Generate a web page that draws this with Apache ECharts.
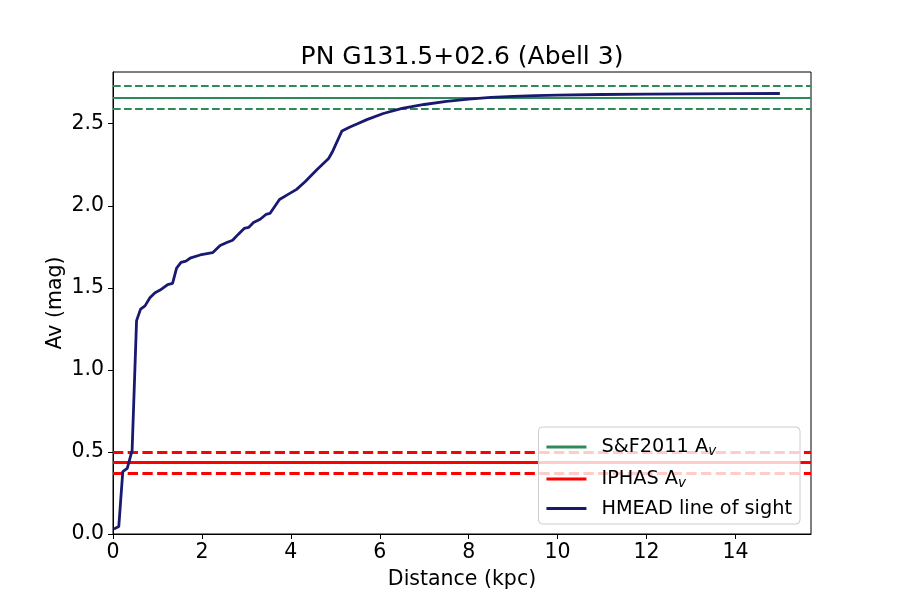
<!DOCTYPE html>
<html>
<head>
<meta charset="utf-8">
<script src="https://cdn.jsdelivr.net/npm/echarts@6/dist/echarts.min.js"></script>
<style>
html,body{margin:0;padding:0;background:#fff;}
#chart{width:900px;height:600px;}
</style>
</head>
<body>
<div id="chart"></div>
<script>
const titleText = 'PN G131.5+02.6 (Abell 3)';
const xTicks = [0, 2, 4, 6, 8, 10, 12, 14];
const yTicks = [0.0, 0.5, 1.0, 1.5, 2.0, 2.5];
const xRange = [0, 15.7];
const yRange = [0, 2.815];

// S&F2011 Av: value, lower, upper
const sfAv = [2.657, 2.590, 2.733];
// IPHAS Av: value, lower, upper
const iphasAv = [0.437, 0.371, 0.499];

// HMEAD line of sight
const distance = [0.02, 0.13, 0.22, 0.32, 0.43, 0.53, 0.62, 0.72, 0.83, 0.945, 1.06, 1.23, 1.34, 1.43, 1.53, 1.64, 1.75, 1.96, 2.24, 2.41, 2.56, 2.69, 2.82, 2.95, 3.05, 3.16, 3.31, 3.44, 3.53, 3.745, 3.91, 4.13, 4.32, 4.585, 4.85, 4.945, 5.15, 5.33, 5.5, 5.71, 6.08, 6.5, 7.0, 7.5, 8.0, 8.5, 9.0, 9.5, 10, 11, 12, 13, 14, 15];
const avHmead = [0.03, 0.045, 0.38, 0.40, 0.51, 1.30, 1.37, 1.39, 1.44, 1.47, 1.486, 1.52, 1.527, 1.62, 1.655, 1.663, 1.683, 1.70, 1.714, 1.758, 1.776, 1.79, 1.827, 1.862, 1.868, 1.898, 1.918, 1.947, 1.953, 2.038, 2.065, 2.10, 2.146, 2.22, 2.288, 2.334, 2.456, 2.48, 2.50, 2.525, 2.562, 2.593, 2.617, 2.636, 2.650, 2.660, 2.667, 2.671, 2.674, 2.678, 2.680, 2.682, 2.683, 2.684];

const GREEN = '#2e8b57', RED = '#ff0000', NAVY = '#191970';
const FONT = 'DejaVu Sans';

const chart = echarts.init(document.getElementById('chart'), null, {renderer: 'canvas'});
const hmeadData = distance.map((d, i) => [d, avHmead[i]]);

function hline(v, dash, color, width) {
  return {yAxis: v, lineStyle: {color: color, width: width, type: dash || 'solid'}};
}

chart.setOption({
  backgroundColor: '#fff',
  animation: false,
  textStyle: {fontFamily: FONT},
  title: {
    text: titleText, left: 457, top: 40, textAlign: 'center',
    textStyle: {fontFamily: FONT, fontSize: 25, fontWeight: 'normal', color: '#000'}
  },
  grid: {left: 113, right: 89, top: 72, bottom: 66, show: true, borderColor: '#000', borderWidth: 1, containLabel: false},
  xAxis: {
    type: 'value', min: xRange[0], max: xRange[1], interval: 2,
    name: 'Distance (kpc)', nameLocation: 'middle', nameGap: 35, nameMoveOverlap: false,
    nameTextStyle: {fontFamily: FONT, fontSize: 20.5, color: '#000'},
    axisLine: {show: true, lineStyle: {color: '#000', width: 1}},
    axisTick: {show: true, length: 5, inside: false, lineStyle: {color: '#000'},
      customValues: xTicks},
    axisLabel: {fontFamily: FONT, fontSize: 20.5, color: '#000', margin: 8,
      customValues: xTicks, formatter: v => String(v)},
    splitLine: {show: false}
  },
  yAxis: {
    type: 'value', min: yRange[0], max: yRange[1], interval: 0.5,
    name: 'Av (mag)', nameLocation: 'middle', nameGap: 47, nameRotate: 90, nameMoveOverlap: false,
    nameTextStyle: {fontFamily: FONT, fontSize: 20.5, color: '#000'},
    axisLine: {show: true, lineStyle: {color: '#000', width: 1}},
    axisTick: {show: true, length: 5, inside: false, lineStyle: {color: '#000'},
      customValues: yTicks},
    axisLabel: {fontFamily: FONT, fontSize: 20.5, color: '#000', margin: 9,
      customValues: yTicks, formatter: v => v.toFixed(1)},
    splitLine: {show: false}
  },
  legend: {
    orient: 'vertical', right: 100, bottom: 76, z: 10,
    backgroundColor: 'rgba(255,255,255,0.8)', borderColor: '#cccccc', borderWidth: 1, borderRadius: 4,
    padding: [8, 8, 6, 8], itemGap: 9, itemWidth: 40, itemHeight: 3,
    data: [
      {name: 'S&F2011', icon: 'rect', itemStyle: {color: GREEN}},
      {name: 'IPHAS', icon: 'rect', itemStyle: {color: RED}},
      {name: 'HMEAD line of sight', icon: 'rect', itemStyle: {color: NAVY}}
    ],
    formatter: function (name) {
      if (name === 'HMEAD line of sight') return '{m|' + name + '}';
      return '{m|' + name + ' A}{s|v}';
    },
    textStyle: {
      fontFamily: FONT, fontSize: 19.3, color: '#000', padding: [0, 0, 0, 10],
      rich: {
        m: {fontFamily: FONT, fontSize: 19.3, color: '#000', lineHeight: 22},
        s: {fontFamily: FONT, fontSize: 13.5, fontStyle: 'italic', color: '#000', lineHeight: 22, verticalAlign: 'bottom', padding: [9, 0, 0, 0]}
      }
    }
  },
  series: [
    {
      name: 'S&F2011', type: 'line', data: [], color: GREEN, z: 2,
      lineStyle: {color: GREEN, width: 2},
      markLine: {
        silent: true, symbol: ['none', 'none'], label: {show: false}, animation: false,
        data: [hline(sfAv[0], null, GREEN, 2.1), hline(sfAv[1], [7.7, 3.3], GREEN, 2.1), hline(sfAv[2], [7.7, 3.3], GREEN, 2.1)]
      }
    },
    {
      name: 'IPHAS', type: 'line', data: [], color: RED, z: 2,
      lineStyle: {color: RED, width: 3},
      markLine: {
        silent: true, symbol: ['none', 'none'], label: {show: false}, animation: false,
        data: [hline(iphasAv[0], null, RED, 2.8), hline(iphasAv[1], [10.3, 4.4], RED, 2.8), hline(iphasAv[2], [10.3, 4.4], RED, 2.8)]
      }
    },
    {
      name: 'HMEAD line of sight', type: 'line', data: hmeadData, color: NAVY, z: 5,
      showSymbol: false, symbol: 'none', smooth: false,
      lineStyle: {color: NAVY, width: 2.8}
    }
  ]
});
</script>
</body>
</html>
